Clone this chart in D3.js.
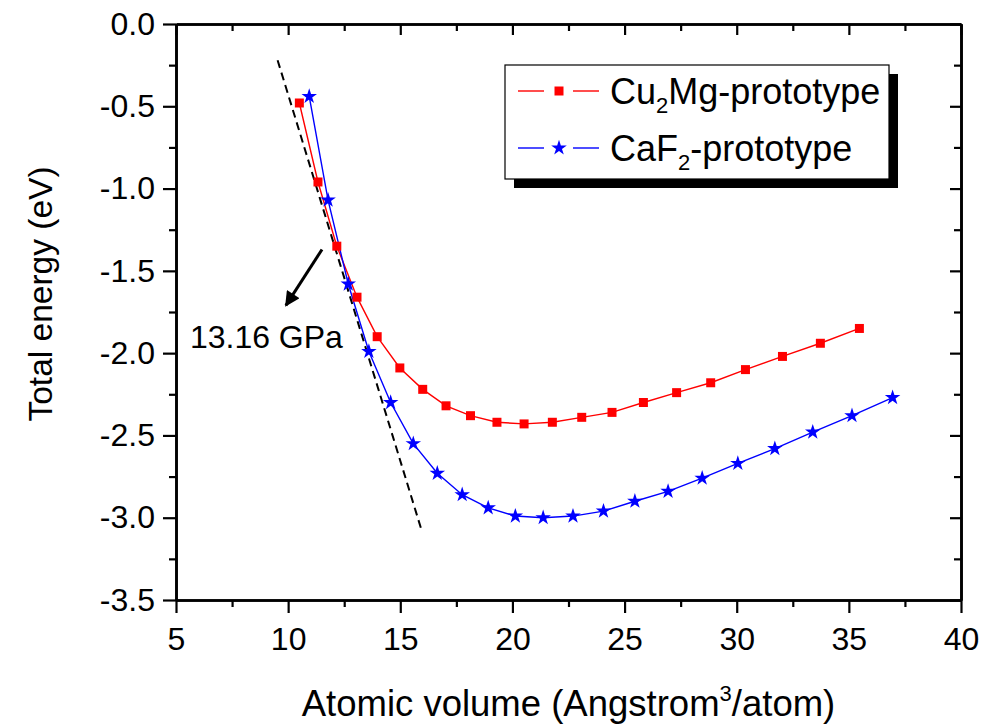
<!DOCTYPE html>
<html>
<head>
<meta charset="utf-8">
<script src="https://cdn.jsdelivr.net/npm/d3@7"></script>
<style>
  body { margin: 0; background: #fff; }
  svg { display: block; font-family: "Liberation Sans", Arial, sans-serif; }
</style>
</head>
<body>
<svg width="986" height="724"></svg>
<script>
// values
const cuVol = [10.50, 11.33, 12.17, 13.07, 13.97, 14.98, 16.00, 17.04, 18.13, 19.31, 20.52,
  21.78, 23.09, 24.44, 25.84, 27.32, 28.84, 30.39, 32.04, 33.73, 35.47];
const cuE = [-0.48, -0.96, -1.35, -1.66, -1.90, -2.09, -2.22, -2.32, -2.38, -2.42, -2.43,
  -2.42, -2.39, -2.36, -2.30, -2.24, -2.18, -2.10, -2.02, -1.94, -1.85];

const caVol = [10.94, 11.78, 12.68, 13.60, 14.57, 15.58, 16.65, 17.76, 18.92, 20.13, 21.37,
  22.70, 24.06, 25.46, 26.94, 28.46, 30.05, 31.70, 33.39, 35.14, 36.95];
const caE = [-0.44, -1.07, -1.58, -1.99, -2.30, -2.55, -2.73, -2.86, -2.94, -2.99, -3.00,
  -2.99, -2.96, -2.90, -2.84, -2.76, -2.67, -2.58, -2.48, -2.38, -2.27];

// tangent (common tangent line) and pressure arrow
const tangent = [[9.53, -0.22], [15.98, -3.09]];
const arrow = [[11.51, -1.37], [9.90, -1.71]];
const pressureLabel = { x: 5.62, y: -1.968, text: "13.16 GPa" };

const xTicks = [5, 10, 15, 20, 25, 30, 35, 40];
const xMinor = [7.5, 12.5, 17.5, 22.5, 27.5, 32.5, 37.5];
const yTicks = [0, -0.5, -1.0, -1.5, -2.0, -2.5, -3.0, -3.5];
const yMinor = [-0.25, -0.75, -1.25, -1.75, -2.25, -2.75, -3.25];

const svg = d3.select("svg");
const margin = { top: 24, right: 25, bottom: 124, left: 176 };
const width = +svg.attr("width");
const height = +svg.attr("height");
const innerW = width - margin.left - margin.right;
const innerH = height - margin.top - margin.bottom;

const x = d3.scaleLinear().domain([5, 40]).range([0, innerW]);
const y = d3.scaleLinear().domain([-3.5, 0]).range([innerH, 0]);

const g = svg.append("g").attr("transform", `translate(${margin.left},${margin.top})`);

const fmt = d => d.toFixed(1);

// minor ticks first
g.append("g").attr("transform", `translate(0,${innerH})`)
  .call(d3.axisBottom(x).tickValues(xMinor).tickSize(7).tickFormat("").tickSizeOuter(0));
g.append("g")
  .call(d3.axisLeft(y).tickValues(yMinor).tickSize(7).tickFormat("").tickSizeOuter(0));
g.append("g")
  .call(d3.axisTop(x).tickValues(xMinor).tickSize(-7).tickFormat("").tickSizeOuter(0));
g.append("g").attr("transform", `translate(${innerW},0)`)
  .call(d3.axisRight(y).tickValues(yMinor).tickSize(-7).tickFormat("").tickSizeOuter(0));

// major ticks
const xAxisG = g.append("g").attr("transform", `translate(0,${innerH})`)
  .call(d3.axisBottom(x).tickValues(xTicks).tickSize(13).tickPadding(8)
    .tickFormat(d => d).tickSizeOuter(0));
const yAxisG = g.append("g")
  .call(d3.axisLeft(y).tickValues(yTicks).tickSize(13).tickPadding(8)
    .tickFormat(fmt).tickSizeOuter(0));
g.append("g")
  .call(d3.axisTop(x).tickValues(xTicks).tickSize(-11).tickFormat("").tickSizeOuter(0));
g.append("g").attr("transform", `translate(${innerW},0)`)
  .call(d3.axisRight(y).tickValues(yTicks).tickSize(-11).tickFormat("").tickSizeOuter(0));

g.selectAll(".domain").attr("stroke", "#000").attr("stroke-width", 2.6);
g.selectAll(".tick line").attr("stroke", "#000").attr("stroke-width", 2.2);
g.selectAll(".tick text").attr("fill", "#000").style("font-size", "32px")
  .style("font-family", "'Liberation Sans', Arial, sans-serif");
xAxisG.selectAll(".tick text").attr("dy", "0.9em");

// axis titles
svg.append("text")
  .attr("x", margin.left + innerW / 2)
  .attr("y", 716)
  .attr("text-anchor", "middle")
  .style("font-size", "36.5px")
  .call(t => {
    t.append("tspan").text("Atomic volume (Angstrom");
    t.append("tspan").attr("dy", -15).style("font-size", "22px").text("3");
    t.append("tspan").attr("dy", 15).text("/atom)");
  });

svg.append("text")
  .attr("transform", "translate(52,294) rotate(-90)")
  .attr("text-anchor", "middle")
  .style("font-size", "33.5px")
  .text("Total energy (eV)");

// tangent line
g.append("line")
  .attr("x1", x(tangent[0][0])).attr("y1", y(tangent[0][1]))
  .attr("x2", x(tangent[1][0])).attr("y2", y(tangent[1][1]))
  .attr("stroke", "#000").attr("stroke-width", 2).attr("stroke-dasharray", "8,5");

// series
const cuData = cuVol.map((v, i) => ({ v: v, e: cuE[i] }));
const caData = caVol.map((v, i) => ({ v: v, e: caE[i] }));

const line = d3.line().x(d => x(d.v)).y(d => y(d.e));

g.append("path").datum(cuData).attr("d", line)
  .attr("fill", "none").attr("stroke", "#ff0000").attr("stroke-width", 1.4);
g.append("path").datum(caData).attr("d", line)
  .attr("fill", "none").attr("stroke", "#0000ff").attr("stroke-width", 1.4);

const square = d3.symbol().type(d3.symbolSquare).size(81);
const star = d3.symbol().type(d3.symbolStar).size(75);

g.selectAll(".cu").data(cuData).enter().append("path")
  .attr("class", "cu")
  .attr("transform", d => `translate(${x(d.v)},${y(d.e)})`)
  .attr("d", square).attr("fill", "#ff0000");
g.selectAll(".ca").data(caData).enter().append("path")
  .attr("class", "ca")
  .attr("transform", d => `translate(${x(d.v)},${y(d.e)})`)
  .attr("d", star).attr("fill", "#0000ff");

// arrow
svg.append("defs").append("marker")
  .attr("id", "head").attr("viewBox", "0 0 10 10")
  .attr("refX", 9).attr("refY", 5)
  .attr("markerWidth", 6).attr("markerHeight", 5)
  .attr("markerUnits", "strokeWidth")
  .attr("orient", "auto")
  .append("path").attr("d", "M0,0 L10,5 L0,10 Z").attr("fill", "#000");

g.append("line")
  .attr("x1", x(arrow[0][0])).attr("y1", y(arrow[0][1]))
  .attr("x2", x(arrow[1][0])).attr("y2", y(arrow[1][1]))
  .attr("stroke", "#000").attr("stroke-width", 3)
  .attr("marker-end", "url(#head)");

g.append("text")
  .attr("x", x(pressureLabel.x)).attr("y", y(pressureLabel.y))
  .style("font-size", "32px")
  .text(pressureLabel.text);

// legend
const leg = svg.append("g").attr("transform", "translate(505,65)");
leg.append("rect").attr("x", 9).attr("y", 9).attr("width", 384).attr("height", 114).attr("fill", "#000");
leg.append("rect").attr("x", 0).attr("y", 0).attr("width", 384).attr("height", 114)
  .attr("fill", "#fff").attr("stroke", "#000").attr("stroke-width", 1.2);

const legendItems = [
  { color: "#ff0000", sym: square, pre: "Cu", sub: "2", post: "Mg-prototype", y: 26 },
  { color: "#0000ff", sym: star, pre: "CaF", sub: "2", post: "-prototype", y: 83 }
];
legendItems.forEach(it => {
  const r = leg.append("g").attr("transform", `translate(0,${it.y})`);
  r.append("line").attr("x1", 13).attr("x2", 39).attr("stroke", it.color).attr("stroke-width", 1.4);
  r.append("line").attr("x1", 68).attr("x2", 94).attr("stroke", it.color).attr("stroke-width", 1.4);
  r.append("path").attr("transform", "translate(54,0)").attr("d", it.sym).attr("fill", it.color);
  const t = r.append("text").attr("x", 105).attr("y", 13).style("font-size", "36px");
  t.append("tspan").text(it.pre);
  t.append("tspan").attr("dy", 9).style("font-size", "22px").text(it.sub);
  t.append("tspan").attr("dy", -9).text(it.post);
});
</script>
</body>
</html>
